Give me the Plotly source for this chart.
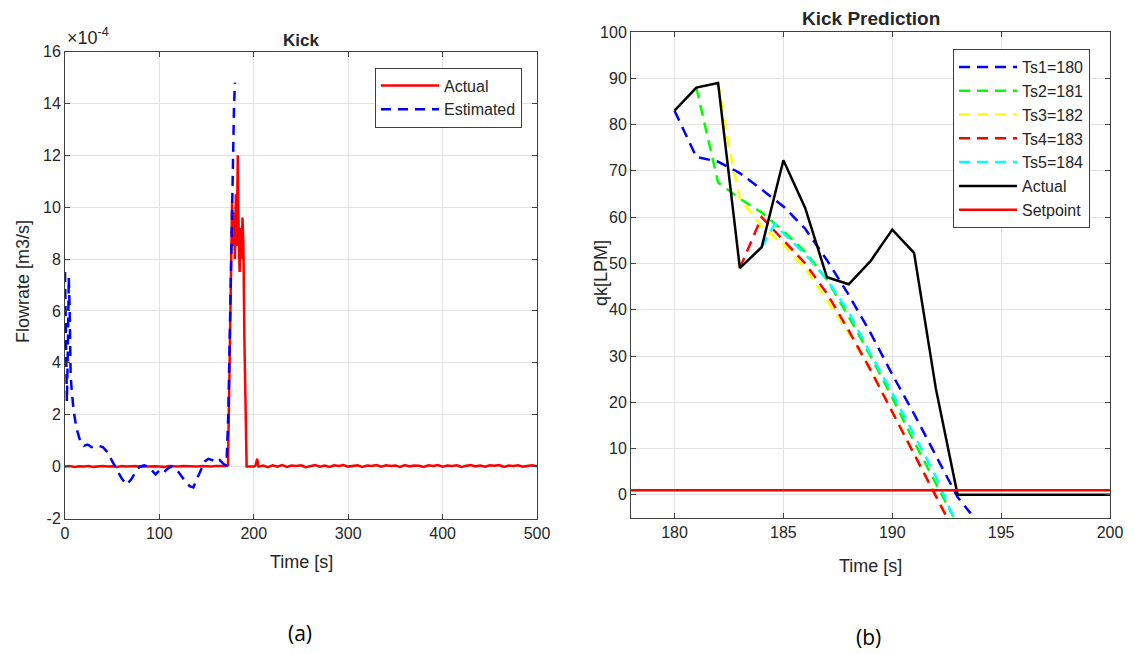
import plotly.graph_objects as go

W, H = 1137, 654

# ---------------- Data: (a) Kick, flowrate in units of 1e-4 m3/s ----------------
act_t = [0, 5, 10, 15, 20, 25, 30, 35, 40, 45, 50, 55, 60, 65, 70, 75, 80, 85, 90, 95,
         100, 105, 110, 115, 120, 125, 130, 135, 140, 145, 150, 155, 160, 165, 170, 172.7,
         174, 176, 177, 178, 179, 180, 181, 182, 183, 184, 185, 186, 187, 188, 189, 190, 191,
         192.4, 195, 200, 202, 203.5, 205, 210, 215, 220, 225, 230, 235, 240, 245, 250, 255,
         260, 265, 270, 275, 280, 285, 290, 295, 300, 305, 310, 315, 320, 325, 330, 335, 340,
         345, 350, 355, 360, 365, 370, 375, 380, 385, 390, 395, 400, 405, 410, 415, 420, 425,
         430, 435, 440, 445, 450, 455, 460, 465, 470, 475, 480, 485, 490, 495, 500]
act_q = [0.0, 0.02, -0.01, 0.01, 0.0, 0.02, -0.01, 0.01, 0.02, 0.0, 0.01, -0.01, 0.02, 0.0,
         0.01, 0.02, -0.01, 0.0, 0.02, 0.01, 0.0, -0.01, 0.02, 0.01, 0.0, 0.02, 0.01, -0.01,
         0.0, 0.02, 0.01, 0.0, 0.02, 0.01, 0.02, 0.05,
         3.0, 8.0, 10.2, 8.5, 9.8, 8.0, 10.5, 8.5, 12.0, 9.0, 7.5, 9.2, 8.0, 9.6, 8.5, 5.0, 2.0,
         0.0, 0.0, 0.0, 0.05, 0.3, 0.0, 0.04, -0.02, 0.05, 0.0, 0.06, -0.01, 0.04, 0.02, 0.05,
         -0.02, 0.03, 0.06, 0.0, 0.04, -0.01, 0.05, 0.02, 0.06, 0.0, 0.03, 0.05, -0.01, 0.04,
         0.02, 0.06, 0.0, 0.05, 0.02, 0.04, -0.01, 0.06, 0.01, 0.04, 0.03, -0.01, 0.05, 0.02,
         0.06, 0.0, 0.04, 0.02, 0.05, -0.01, 0.03, 0.06, 0.01, 0.04, 0.0, 0.05, 0.03, 0.06,
         -0.01, 0.04, 0.02, 0.05, 0.0, 0.03, 0.05, 0.01, 0.04, 0.02]

est_t = [0, 1, 2, 3, 4, 5, 6, 7, 9, 12, 16, 20, 24, 28, 32, 36, 40, 44, 48, 52, 56, 60, 65,
         70, 75, 79, 84, 88, 92, 96, 100, 104, 108, 112, 116, 120, 124, 128, 132, 136, 140,
         144, 148, 152, 156, 160, 164, 168, 171, 173, 175, 176.5, 178, 179, 180]
est_q = [7.5, 5.0, 2.5, 4.5, 7.3, 6.0, 3.5, 3.0, 2.2, 1.5, 1.0, 0.8, 0.85, 0.75, 0.8, 0.8,
         0.75, 0.6, 0.35, 0.1, -0.15, -0.45, -0.7, -0.5, -0.2, 0.0, 0.05, 0.0, -0.15, -0.3,
         -0.15, -0.25, -0.1, 0.0, -0.05, -0.2, -0.4, -0.6, -0.75, -0.8, -0.45, -0.1, 0.2,
         0.3, 0.25, 0.15, 0.25, 0.1, 0.05, 2.0, 6.0, 10.0, 12.5, 13.8, 14.8]

y1_ticks = [-2, 0, 2, 4, 6, 8, 10, 12, 14, 16]
y1_ticktext = ["-2", "0", "2", "4", "6", "8", "10", "12", "14", "16"]
x1_ticks = [0, 100, 200, 300, 400, 500]

# ---------------- Data: (b) Kick Prediction, qk in LPM ----------------
actual_t = [180, 181, 182, 183, 184, 185, 186, 187, 188, 189, 190, 191, 192, 193, 200]
actual_q = [83, 88, 89, 49, 53.5, 72.3, 62, 47, 45.5, 50.5, 57.3, 52.3, 23, 0, 0]

ts1_t = [180, 181, 182, 183, 184, 185, 186, 187, 188, 189, 190, 191, 192, 193, 193.6]
ts1_q = [83, 73, 72, 69.5, 66, 62.3, 57.5, 50.7, 43.2, 35, 26, 17.5, 8.5, -0.5, -4]

ts2_t = [181, 182, 183, 184, 185, 186, 187, 188, 189, 190, 191, 192, 192.8]
ts2_q = [88, 67.5, 64, 61, 57, 52.5, 46.5, 38.5, 30, 21, 11.5, 2.5, -4.7]

ts3_t = [182, 182.5, 183, 184, 185, 186, 187, 188, 189, 190, 191, 192, 192.5]
ts3_q = [89, 75, 64, 58, 54, 49, 42, 35, 27, 18, 9, 0, -4.8]

ts4_t = [183, 184, 185, 186, 187, 188, 189, 190, 191, 192, 192.5]
ts4_q = [49, 60, 55, 50, 43.5, 35.5, 27, 18, 9, 0, -4.8]

ts5_t = [184, 184.6, 185, 186, 187, 188, 189, 190, 191, 192, 192.8]
ts5_q = [53.5, 58.5, 56.5, 52, 46.5, 39.5, 30.5, 22, 13, 4, -4.7]

setpoint_t = [178, 200]
setpoint_q = [1, 1]

pred_names = ["Ts1=180", "Ts2=181", "Ts3=182", "Ts4=183", "Ts5=184"]
pred_colors = ["#0000ff", "#00ff00", "#ffff00", "#ff0000", "#00ffff"]
x2_ticks = [180, 185, 190, 195, 200]
y2_ticks = [0, 10, 20, 30, 40, 50, 60, 70, 80, 90, 100]

# ---------------- Layout geometry (pixels) ----------------
def px_x(x):
    return x / W

def px_y(y):
    return 1 - y / H

L1, R1, T1, B1 = 65, 537, 51.5, 518.5
L2, R2, T2, B2 = 631, 1110, 32, 518

FONT = "Liberation Sans, Arial, sans-serif"
TXT = "#262626"

fig = go.Figure()

fig.add_trace(go.Scatter(x=act_t, y=act_q, mode="lines", name="Actual",
                         line=dict(color="#ff0000", width=2.5),
                         xaxis="x", yaxis="y", legend="legend"))
fig.add_trace(go.Scatter(x=est_t, y=est_q, mode="lines", name="Estimated",
                         line=dict(color="#0000ff", width=2.5, dash="10px,7px"),
                         xaxis="x", yaxis="y", legend="legend"))

pred_t = [ts1_t, ts2_t, ts3_t, ts4_t, ts5_t]
pred_q = [ts1_q, ts2_q, ts3_q, ts4_q, ts5_q]
for nm, c, tt, qq in zip(pred_names, pred_colors, pred_t, pred_q):
    fig.add_trace(go.Scatter(x=tt, y=qq, mode="lines", name=nm,
                             line=dict(color=c, width=2.5, dash="11px,7px"),
                             xaxis="x2", yaxis="y2", legend="legend2"))
fig.add_trace(go.Scatter(x=actual_t, y=actual_q, mode="lines", name="Actual",
                         line=dict(color="#000000", width=2.5),
                         xaxis="x2", yaxis="y2", legend="legend2"))
fig.add_trace(go.Scatter(x=setpoint_t, y=setpoint_q, mode="lines", name="Setpoint",
                         line=dict(color="#ff0000", width=2.5),
                         xaxis="x2", yaxis="y2", legend="legend2"))

axis_common = dict(showgrid=True, gridcolor="#e3e3e3", gridwidth=1, automargin=False,
                   showline=True, linecolor="#404040", linewidth=1, mirror="allticks",
                   ticks="inside", ticklen=5, tickcolor="#404040", zeroline=False,
                   tickfont=dict(family=FONT, size=16, color=TXT))

fig.update_layout(
    width=W, height=H,
    margin=dict(l=0, r=0, t=0, b=0, autoexpand=False),
    paper_bgcolor="white", plot_bgcolor="white",
    xaxis=dict(domain=[px_x(L1), px_x(R1)], range=[0, 500], tickvals=x1_ticks,
               anchor="y", **axis_common),
    yaxis=dict(domain=[px_y(B1), px_y(T1)], range=[-2, 16], tickvals=y1_ticks,
               ticktext=y1_ticktext, anchor="x", **axis_common),
    xaxis2=dict(domain=[px_x(L2), px_x(R2)], range=[178, 200], tickvals=x2_ticks,
                anchor="y2", **axis_common),
    yaxis2=dict(domain=[px_y(B2), px_y(T2)], range=[-5, 100], tickvals=y2_ticks,
                anchor="x2", **axis_common),
    legend=dict(x=px_x(375), y=px_y(67.5), xanchor="left", yanchor="top",
                bgcolor="white", bordercolor="#404040", borderwidth=1,
                font=dict(family=FONT, size=16, color=TXT), itemwidth=58,
                tracegroupgap=0),
    legend2=dict(x=px_x(953), y=px_y(49), xanchor="left", yanchor="top",
                 bgcolor="white", bordercolor="#404040", borderwidth=1,
                 font=dict(family=FONT, size=16, color=TXT), itemwidth=58,
                 tracegroupgap=0),
    showlegend=True,
)

annos = [
    dict(text="<b>Kick</b>", x=px_x((L1 + R1) / 2), y=px_y(40), font=dict(size=17)),
    dict(text="<b>Kick Prediction</b>", x=px_x((L2 + R2) / 2), y=px_y(18), font=dict(size=19)),
    dict(text="Time [s]", x=px_x((L1 + R1) / 2), y=px_y(562), font=dict(size=18)),
    dict(text="Time [s]", x=px_x((L2 + R2) / 2), y=px_y(566), font=dict(size=18)),
    dict(text="Flowrate [m3/s]", x=px_x(23), y=px_y(282), textangle=-90, font=dict(size=18)),
    dict(text="qk[LPM]", x=px_x(601), y=px_y(273), textangle=-90, font=dict(size=18)),
    dict(text="×10<sup>-4</sup>", x=px_x(65), y=px_y(50), xanchor="left", yanchor="bottom",
         font=dict(size=18)),
    dict(text="(a)", x=px_x(300), y=px_y(633), font=dict(size=21, family="Open Sans, sans-serif",
                                                        color="#000000")),
    dict(text="(b)", x=px_x(868), y=px_y(637), font=dict(size=21, family="Open Sans, sans-serif",
                                                        color="#000000")),
]
for a in annos:
    f = dict(family=FONT, color=TXT)
    f.update(a.pop("font"))
    a.setdefault("xanchor", "center")
    a.setdefault("yanchor", "middle")
    fig.add_annotation(xref="paper", yref="paper", showarrow=False, font=f, **a)

fig.write_html("out.html")
